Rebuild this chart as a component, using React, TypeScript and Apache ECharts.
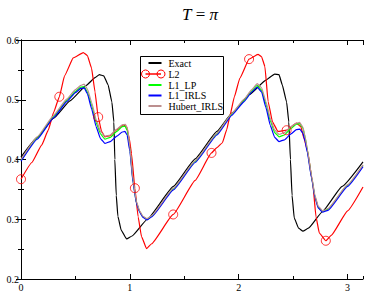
import React, { useEffect, useRef } from "react";
import * as echarts from "echarts";

// ---- data ----
const xMajorTicks = [0, 1, 2, 3];
const yMajorTicks = [0.2, 0.3, 0.4, 0.5, 0.6];
const seriesNames = ["Exact", "L2", "L1_LP", "L1_IRLS", "Hubert_IRLS"];

const exactData: [number, number][] = [
  [0, 0.404], [0.15, 0.437], [0.3, 0.469], [0.45, 0.498], [0.6, 0.524], [0.68, 0.537],
  [0.72, 0.542], [0.76, 0.540], [0.8, 0.525], [0.835, 0.496], [0.853, 0.463], [0.862, 0.40],
  [0.875, 0.34], [0.89, 0.305], [0.92, 0.282], [0.97, 0.267], [1.02, 0.272], [1.16, 0.3],
  [1.4, 0.355], [1.6, 0.401], [1.8, 0.447], [1.94, 0.478], [2.1, 0.509], [2.25, 0.533],
  [2.33, 0.543], [2.37, 0.542], [2.4, 0.525], [2.44, 0.496], [2.46, 0.463], [2.475, 0.4],
  [2.49, 0.34], [2.51, 0.302], [2.55, 0.285], [2.59, 0.28], [2.64, 0.285], [2.77, 0.313],
  [2.95, 0.355], [3.1416, 0.396],
];

const l2Data: [number, number][] = [
  [0, 0.367], [0.1, 0.395], [0.19, 0.424], [0.25, 0.449], [0.3, 0.479], [0.352, 0.505],
  [0.4, 0.54], [0.48, 0.57], [0.572, 0.579], [0.61, 0.574], [0.648, 0.553], [0.68, 0.513],
  [0.709, 0.471], [0.74, 0.447], [0.77, 0.438], [0.82, 0.44], [0.88, 0.45], [0.94, 0.458],
  [0.97, 0.455], [0.995, 0.435], [1.015, 0.41], [1.046, 0.352], [1.076, 0.304], [1.107, 0.271],
  [1.153, 0.251], [1.2, 0.259], [1.398, 0.308], [1.6, 0.365], [1.75, 0.411], [1.8, 0.42],
  [1.85, 0.428], [1.89, 0.45], [1.92, 0.474], [1.96, 0.505], [2.01, 0.536], [2.095, 0.568],
  [2.177, 0.576], [2.21, 0.572], [2.24, 0.556], [2.27, 0.497], [2.31, 0.463], [2.36, 0.447],
  [2.44, 0.449], [2.53, 0.461], [2.57, 0.455], [2.6, 0.435], [2.63, 0.416], [2.68, 0.36],
  [2.71, 0.304], [2.74, 0.277], [2.8, 0.264], [2.85, 0.273], [3.0, 0.314], [3.1416, 0.354],
];

const l2MarkerX = [0, 0.352, 0.709, 1.046, 1.398, 1.75, 2.095, 2.44, 2.8];
const l2MarkerY = [0.367, 0.505, 0.471, 0.352, 0.308, 0.411, 0.568, 0.449, 0.264];

const l1lpData: [number, number][] = [
  [0, 0.398], [0.15, 0.436], [0.3, 0.472], [0.42, 0.499], [0.5, 0.514], [0.55, 0.521],
  [0.58, 0.522], [0.61, 0.513], [0.65, 0.49], [0.69, 0.462], [0.73, 0.443], [0.77, 0.434],
  [0.82, 0.437], [0.88, 0.447], [0.93, 0.455], [0.955, 0.456], [0.975, 0.449], [1.0, 0.418],
  [1.03, 0.362], [1.06, 0.328], [1.09, 0.313], [1.12, 0.304], [1.156, 0.3], [1.2, 0.305],
  [1.4, 0.351], [1.6, 0.397], [1.8, 0.443], [1.936, 0.476], [2.05, 0.499], [2.12, 0.515],
  [2.17, 0.524], [2.21, 0.516], [2.25, 0.493], [2.29, 0.465], [2.33, 0.445], [2.37, 0.438],
  [2.42, 0.441], [2.48, 0.452], [2.53, 0.459], [2.56, 0.46], [2.59, 0.452], [2.61, 0.437],
  [2.63, 0.416], [2.67, 0.37], [2.7, 0.338], [2.73, 0.32], [2.77, 0.313], [2.82, 0.317],
  [3.0, 0.357], [3.1416, 0.39],
];

const l1irlsData: [number, number][] = [
  [0, 0.397], [0.15, 0.434], [0.3, 0.47], [0.42, 0.497], [0.5, 0.512], [0.55, 0.519],
  [0.58, 0.52], [0.61, 0.51], [0.65, 0.484], [0.69, 0.455], [0.73, 0.435], [0.77, 0.427],
  [0.82, 0.43], [0.88, 0.439], [0.93, 0.446], [0.955, 0.447], [0.975, 0.441], [1.0, 0.414],
  [1.03, 0.36], [1.06, 0.327], [1.09, 0.312], [1.12, 0.303], [1.16, 0.299], [1.2, 0.304],
  [1.4, 0.349], [1.6, 0.395], [1.8, 0.441], [1.936, 0.474], [2.05, 0.497], [2.12, 0.513],
  [2.17, 0.521], [2.21, 0.513], [2.25, 0.487], [2.29, 0.457], [2.33, 0.437], [2.37, 0.43],
  [2.42, 0.433], [2.48, 0.443], [2.53, 0.45], [2.56, 0.451], [2.59, 0.444], [2.61, 0.43],
  [2.63, 0.412], [2.67, 0.368], [2.7, 0.337], [2.73, 0.319], [2.77, 0.312], [2.82, 0.315],
  [3.0, 0.355], [3.1416, 0.388],
];

const hubertData: [number, number][] = [
  [0, 0.4], [0.15, 0.438], [0.3, 0.474], [0.42, 0.501], [0.5, 0.517], [0.55, 0.524],
  [0.58, 0.526], [0.61, 0.518], [0.65, 0.495], [0.69, 0.467], [0.73, 0.447], [0.77, 0.439],
  [0.82, 0.441], [0.88, 0.451], [0.93, 0.458], [0.96, 0.459], [0.98, 0.451], [1.0, 0.42],
  [1.03, 0.365], [1.06, 0.33], [1.09, 0.314], [1.12, 0.305], [1.156, 0.301], [1.2, 0.306],
  [1.4, 0.352], [1.6, 0.398], [1.8, 0.444], [1.936, 0.477], [2.05, 0.501], [2.12, 0.517],
  [2.17, 0.527], [2.21, 0.52], [2.25, 0.497], [2.29, 0.469], [2.33, 0.449], [2.37, 0.442],
  [2.42, 0.445], [2.48, 0.455], [2.53, 0.461], [2.56, 0.462], [2.59, 0.454], [2.61, 0.438],
  [2.63, 0.418], [2.67, 0.372], [2.7, 0.34], [2.73, 0.322], [2.77, 0.314], [2.82, 0.318],
  [3.0, 0.358], [3.1416, 0.391],
];

const seriesColors = ["#000000", "#ff0000", "#00ff00", "#0000ff", "#bc8f8f"];

const FONT = '"Liberation Serif", "DejaVu Serif", serif';

export default function App() {
  const ref = useRef<HTMLDivElement>(null);
  useEffect(() => {
    if (!ref.current) return;
    const chart = echarts.init(ref.current, null, { renderer: "svg" });
    const XMAX = Math.PI;
    const axisBase = {
      type: "value" as const,
      splitLine: { show: false },
      axisLine: { show: true, lineStyle: { color: "#000", width: 1 } },
    };
    const lineSeries = (name: string, data: [number, number][], color: string, z: number) => ({
      name,
      type: "line",
      data,
      xAxisIndex: 0,
      yAxisIndex: 0,
      symbol: "none",
      showSymbol: false,
      smooth: 0.12,
      smoothMonotone: "x",
      lineStyle: { color, width: 1.2 },
      z,
      silent: true,
    });

    // legend drawn as graphic elements
    const legX = 140.5, legY = 56.5, legW = 83, legH = 58;
    const rowY = [63, 74, 85, 95.5, 106];
    const legendEls: any[] = [
      { type: "rect", shape: { x: legX, y: legY, width: legW, height: legH }, style: { fill: "#fff", stroke: "#000", lineWidth: 1 }, z: 100 },
    ];
    seriesNames.forEach((n, i) => {
      const y = rowY[i];
      if (i === 1) {
        legendEls.push({ type: "line", shape: { x1: 145.5, y1: y, x2: 161, y2: y }, style: { stroke: seriesColors[i], lineWidth: 1.5 }, z: 101 });
        legendEls.push({ type: "circle", shape: { cx: 145.5, cy: y, r: 4 }, style: { fill: "none", stroke: seriesColors[i], lineWidth: 1 }, z: 101 });
        legendEls.push({ type: "circle", shape: { cx: 161, cy: y, r: 4 }, style: { fill: "none", stroke: seriesColors[i], lineWidth: 1 }, z: 101 });
      } else {
        legendEls.push({ type: "line", shape: { x1: 148.5, y1: y, x2: 161.5, y2: y }, style: { stroke: seriesColors[i], lineWidth: 2 }, z: 101 });
      }
      legendEls.push({
        type: "text", x: 168.5, y, z: 101,
        style: { text: n, fontFamily: FONT, fontSize: 10, fill: "#000", verticalAlign: "middle", align: "left" },
      });
    });

    chart.setOption({
      animation: false,
      backgroundColor: "#fff",
      title: {
        text: "{i|T} = {i|π}",
        left: 177,
        top: 1,
        textStyle: {
          fontFamily: FONT, fontSize: 17, fontWeight: "normal", color: "#000",
          rich: { i: { fontStyle: "italic", fontFamily: FONT, fontSize: 17, color: "#000" } },
        },
      },
      grid: [
        { left: 21, right: 10, top: 40, bottom: 19, containLabel: false },
        { left: 21, right: 10, top: 40, bottom: 19, containLabel: false },
      ],
      xAxis: [
        {
          ...axisBase, gridIndex: 0, position: "bottom", min: 0, max: XMAX, interval: 1,
          axisTick: { show: true, inside: true, length: 5, lineStyle: { color: "#000", width: 1 } },
          axisLabel: {
            show: true, showMaxLabel: false, color: "#000", fontFamily: FONT, fontSize: 10, margin: 3,
            formatter: (v: number) => (xMajorTicks.includes(Math.round(v)) && Math.abs(v - Math.round(v)) < 1e-6 ? String(Math.round(v)) : ""),
          },
        },
        {
          ...axisBase, gridIndex: 0, position: "top", min: 0, max: XMAX, interval: 1,
          axisTick: { show: true, inside: true, length: 5, lineStyle: { color: "#000", width: 1 } },
          axisLabel: { show: false },
        },
        {
          ...axisBase, gridIndex: 1, position: "bottom", min: 0, max: XMAX, interval: 0.5,
          axisLine: { show: false },
          axisTick: { show: true, inside: true, length: 3, lineStyle: { color: "#000", width: 1 } },
          axisLabel: { show: false },
        },
        {
          ...axisBase, gridIndex: 1, position: "top", min: 0, max: XMAX, interval: 0.5,
          axisLine: { show: false },
          axisTick: { show: true, inside: true, length: 3, lineStyle: { color: "#000", width: 1 } },
          axisLabel: { show: false },
        },
      ],
      yAxis: [
        {
          ...axisBase, gridIndex: 0, position: "left", min: yMajorTicks[0], max: yMajorTicks[yMajorTicks.length - 1], interval: 0.1,
          axisTick: { show: true, inside: true, length: 5, lineStyle: { color: "#000", width: 1 } },
          minorTick: { show: true, splitNumber: 2, length: 3, lineStyle: { color: "#000", width: 1 } },
          minorSplitLine: { show: false },
          axisLabel: { show: true, color: "#000", fontFamily: FONT, fontSize: 10, margin: 2, formatter: (v: number) => v.toFixed(1) },
        },
        {
          ...axisBase, gridIndex: 0, position: "right", min: yMajorTicks[0], max: yMajorTicks[yMajorTicks.length - 1], interval: 0.1,
          axisTick: { show: true, inside: true, length: 5, lineStyle: { color: "#000", width: 1 } },
          minorTick: { show: true, splitNumber: 2, length: 3, lineStyle: { color: "#000", width: 1 } },
          minorSplitLine: { show: false },
          axisLabel: { show: false },
        },
        { type: "value", gridIndex: 1, show: false, min: 0.2, max: 0.6 },
      ],
      series: [
        lineSeries(seriesNames[0], exactData, seriesColors[0], 2),
        lineSeries(seriesNames[1], l2Data, seriesColors[1], 3),
        lineSeries(seriesNames[2], l1lpData, seriesColors[2], 4),
        lineSeries(seriesNames[3], l1irlsData, seriesColors[3], 5),
        lineSeries(seriesNames[4], hubertData, seriesColors[4], 6),
        {
          name: "L2 markers",
          type: "scatter",
          xAxisIndex: 0,
          yAxisIndex: 0,
          data: l2MarkerX.map((x, i) => [x, l2MarkerY[i]]),
          symbol: "circle",
          symbolSize: 9,
          itemStyle: { color: "transparent", borderColor: "#ff0000", borderWidth: 1 },
          z: 7,
          silent: true,
        },
      ],
      graphic: { elements: legendEls },
    });
    return () => chart.dispose();
  }, []);
  return <div ref={ref} style={{ position: "fixed", left: 0, top: 0, width: 373, height: 298 }} />;
}
